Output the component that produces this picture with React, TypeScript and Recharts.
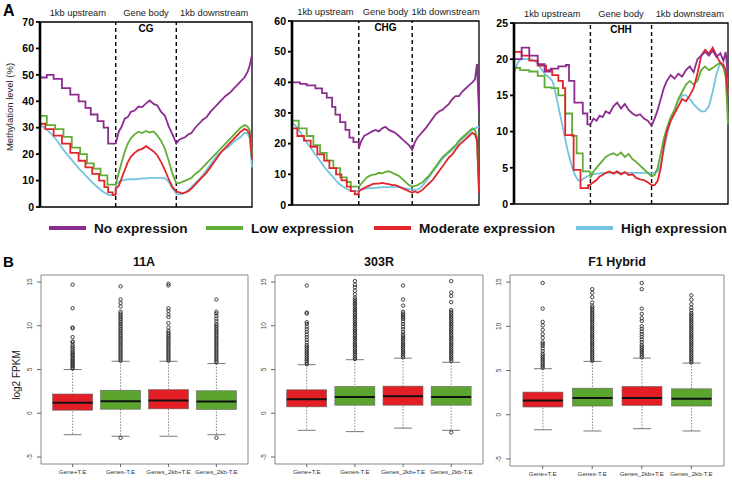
import React from 'react';
import {
  LineChart,
  Line,
  XAxis,
  YAxis,
  ReferenceLine,
  ReferenceArea,
  ComposedChart,
  Bar,
  Scatter,
} from 'recharts';

const FONT = '"Liberation Sans", Arial, Helvetica, sans-serif';

const PURPLE = '#8c2c8f';
const GREEN = '#62ad36';
const RED = '#e2252b';
const BLUE = '#74c4e0';

// ---------- panel A : methylation profiles ----------
// region bounds on the x scale: upstream 0-100, gene body 100-180, downstream 180-280
const regionStart = [0, 100, 180];
const regionEnd = [100, 180, 280];
const regionNames = ['1kb upstream', 'Gene body', '1kb downstream'];

// x grid for gene body + downstream part of every profile
const tailX = [100, 104, 108, 112, 116, 120, 125, 130, 135, 140, 145, 150, 155, 160, 165, 170, 175, 180,
  184, 188, 192, 196, 200, 205, 210, 215, 220, 225, 230, 235, 240, 245, 250, 255, 260, 265, 270, 274, 277, 280];

type Pair = [number, number];

// CG
const cgNoneUp: Pair[] = [[0, 49], [9, 50], [18, 48.5], [29, 45], [40, 42.5], [51, 40], [60, 37.5], [67, 35], [76, 32.5], [84, 30], [90, 24], [100, 24]];
const cgLowUp: Pair[] = [[0, 34.5], [9, 31], [20, 29.5], [31, 26.5], [42, 22.5], [53, 20], [62, 16.5], [71, 14.5], [80, 12], [89, 8.5], [100, 8.5]];
const cgModUp: Pair[] = [[0, 31.5], [7, 29.5], [18, 27], [29, 24], [40, 20.5], [51, 17.5], [60, 15], [69, 12.5], [78, 10], [85, 7.5], [90, 5.5], [96, 4.5], [100, 4.5]];
const cgHighUp: Pair[] = [[0, 31], [10, 29], [20, 26], [30, 22], [40, 18.5], [50, 15], [60, 12], [70, 9], [78, 7], [85, 5.5], [92, 4.5], [100, 4.5]];
const cgNoneTail = [24, 28.5, 30.5, 33.5, 34, 36, 36.5, 38, 37.8, 39.2, 40.3, 39, 38.4, 36, 34.5, 30.5, 27.5, 24,
  25.5, 26, 26.5, 27.5, 28, 30, 31.5, 33, 34, 36, 37.5, 39, 40.5, 42, 43, 44.5, 46, 47.5, 49, 51, 53.5, 57.5];
const cgLowTail = [8.5, 13, 17, 21, 24, 26, 27.5, 28.5, 28, 28.8, 28.2, 28.6, 27, 25, 22, 17.5, 12.5, 9,
  9, 9.5, 10, 10.5, 11, 12.5, 13.5, 15, 16.5, 18, 19.5, 21, 22.5, 24, 25.5, 27, 28.5, 30, 31, 30.5, 29, 20];
const cgModTail = [7, 8, 11, 14, 17, 19, 20.5, 21.5, 22, 23, 22, 21, 19.5, 17, 14, 10.5, 7.5, 6,
  5.5, 5.2, 5.5, 6, 7, 8.5, 10, 11.5, 13, 15, 17, 19, 21, 22.5, 24, 25.5, 27, 28.5, 29.5, 29, 27.5, 18];
const cgHighTail = [8.5, 9.5, 10, 10.3, 10.5, 10.5, 10.5, 10.6, 10.8, 10.8, 11, 11, 11, 11, 10.8, 9.5, 7, 5,
  4.8, 5, 5.5, 6.5, 7.5, 9, 10.5, 12, 14, 16, 18, 20, 21, 22, 23, 24.5, 25.5, 26.5, 28, 28, 26, 15];

// CHG
const chgNoneUp: Pair[] = [[0, 40], [12, 39.5], [22, 39], [35, 38], [45, 36.5], [52, 35], [60, 32], [65, 29.5], [72, 27], [80, 24.5], [86, 22], [92, 20.5], [100, 20.5]];
const chgLowUp: Pair[] = [[0, 27.5], [10, 25], [22, 22.5], [32, 19.5], [42, 17], [52, 14.5], [62, 12], [72, 9], [82, 7.5], [88, 6], [100, 6]];
const chgModUp: Pair[] = [[0, 25], [8, 22.5], [18, 21], [28, 19], [38, 16.5], [48, 14.5], [56, 12], [66, 10], [74, 8], [82, 6], [88, 4.5], [94, 3.5], [100, 3.5]];
const chgHighUp: Pair[] = [[0, 27], [10, 24.5], [20, 21], [30, 18], [40, 15], [50, 12], [60, 9.5], [70, 7], [80, 5.5], [90, 4.5], [100, 4.5]];
const chgNoneTail = [18.5, 21, 22.5, 23, 23.5, 24, 24.5, 24, 25, 25.5, 24.5, 24, 23.5, 22.5, 21.5, 20.5, 19.5, 18,
  20.5, 22, 23, 24, 25, 26.5, 28, 29.5, 30.5, 31, 32, 33, 34.5, 35.5, 35.5, 37, 38, 39, 40, 41, 46, 30];
const chgLowTail = [6, 7, 8, 9, 9.5, 9.8, 10, 10.5, 10.3, 10.8, 11, 10.5, 10, 9.5, 8.5, 7.5, 6.5, 6,
  6.2, 6.5, 7, 7.5, 8.5, 9.5, 11, 12.5, 14, 15.5, 16.5, 17.5, 18.5, 19.5, 21, 22, 23, 24, 25, 24.5, 22, 5];
const chgModTail = [4.5, 5, 5.5, 6, 6.3, 6.8, 7, 7, 7.2, 7, 6.8, 6.5, 6.5, 6, 5.5, 5, 4.5, 4,
  4.5, 4, 4.5, 5, 6, 7, 8, 9.5, 11, 12.5, 14, 15.5, 16.5, 18, 19.5, 20.5, 21.5, 22.5, 23.5, 23, 21, 4];
const chgHighTail = [5, 5.2, 5.3, 5.4, 5.5, 5.5, 5.6, 5.7, 5.8, 5.8, 5.8, 5.8, 5.8, 5.8, 5.6, 5.4, 5.2, 5,
  5, 5, 5.5, 6.5, 7.5, 9, 10.5, 12, 13.5, 15, 16, 17, 18, 19, 20.5, 21.5, 22.5, 23.5, 24.5, 25, 25.3, 25.5];

// CHH
const chhNoneUp: Pair[] = [[0, 20], [10, 21.6], [20, 20.5], [31, 19.3], [40, 18.3], [48, 18.7], [58, 19], [68, 19.2], [72, 17], [79, 14], [90, 12.5], [96, 11], [100, 11]];
const chhLowUp: Pair[] = [[0, 18.8], [8, 18.5], [20, 18.3], [31, 17.7], [40, 16.1], [49, 16], [58, 15], [67, 12.5], [76, 9.4], [82, 7], [90, 4.5], [100, 4.5]];
const chhModUp: Pair[] = [[0, 21], [10, 20.5], [20, 19.8], [31, 19.1], [42, 18.5], [50, 17.8], [58, 17], [64, 16], [67, 9.5], [78, 4.7], [87, 2.2], [97, 2.6], [100, 2.6]];
const chhHighUp: Pair[] = [[0, 18], [5, 19.5], [10, 20], [20, 20], [30, 19.5], [40, 18], [50, 17], [55, 15], [60, 12.5], [65, 10], [70, 7.5], [75, 5.5], [80, 4], [86, 3.2], [92, 3.6], [100, 4]];
const chhNoneTail = [11, 11.8, 11.5, 12.2, 12, 12.8, 12.5, 13.5, 14, 13.2, 13.8, 13, 12.5, 12.2, 12.4, 11.8, 11.5, 10.8,
  11.8, 13, 14.5, 16, 17, 17.8, 17.3, 18, 17.6, 18.5, 19, 18.2, 20, 20.5, 21, 20.5, 21.2, 20.3, 20.8, 19.8, 21, 17.5];
const chhLowTail = [3.6, 4.5, 5, 5.5, 6, 6.5, 6.8, 7, 6.7, 7.1, 6.5, 6.9, 6.2, 5.8, 5.3, 4.8, 4.3, 3.8,
  4, 5, 7, 9, 10.5, 12, 13, 14.5, 15.5, 16.5, 17, 16.5, 17, 18.5, 19, 18.5, 18.8, 19.2, 19.5, 18.8, 17.5, 11];
const chhModTail = [2.7, 3, 3.3, 3.8, 4, 4.3, 4.5, 4.2, 4.5, 4.1, 4.4, 4, 4.1, 3.6, 3.4, 3.3, 3, 2.6,
  2.6, 3.2, 5, 8, 10, 11.5, 12.5, 13.5, 14.5, 14.2, 15, 16, 18, 20.5, 21.3, 20.8, 21.6, 20.5, 19.5, 19.2, 18.5, 15];
const chhHighTail = [4, 4.1, 4.2, 4.2, 4.3, 4.3, 4.3, 4.3, 4.3, 4.3, 4.3, 4.3, 4.3, 4.3, 4.3, 4.3, 4.3, 4.2,
  4.3, 4.5, 5.5, 7.5, 9.5, 11.5, 13, 14.3, 15, 15, 14.5, 13.8, 13.2, 12.8, 12.8, 13.5, 15.5, 18, 19.5, 19.3, 18.5, 15];

const legendNames = ['No expression', 'Low expression', 'Moderate expression', 'High expression'];
const legendColors = [PURPLE, GREEN, RED, BLUE];
const legendX = [49, 206, 374, 576];

interface Series { color: string; up: Pair[]; tail: number[]; smooth?: boolean }

const cgSeries: Series[] = [
  { color: BLUE, up: cgHighUp, tail: cgHighTail, smooth: true },
  { color: GREEN, up: cgLowUp, tail: cgLowTail },
  { color: RED, up: cgModUp, tail: cgModTail },
  { color: PURPLE, up: cgNoneUp, tail: cgNoneTail },
];
const chgSeries: Series[] = [
  { color: BLUE, up: chgHighUp, tail: chgHighTail, smooth: true },
  { color: GREEN, up: chgLowUp, tail: chgLowTail },
  { color: RED, up: chgModUp, tail: chgModTail },
  { color: PURPLE, up: chgNoneUp, tail: chgNoneTail },
];
const chhSeries: Series[] = [
  { color: BLUE, up: chhHighUp, tail: chhHighTail, smooth: true },
  { color: GREEN, up: chhLowUp, tail: chhLowTail },
  { color: RED, up: chhModUp, tail: chhModTail },
  { color: PURPLE, up: chhNoneUp, tail: chhNoneTail },
];

// ---------- panel B : expression box plots ----------
const categories = ['Gene+T.E', 'Genes-T.E', 'Genes_2kb+T.E', 'Genes_2kb-T.E'];
const boxFill = ['#e31e25', '#5ba52f', '#e31e25', '#5ba52f'];

const a11Lo = [-2.45, -2.63, -2.63, -2.45];
const a11Q1 = [0.35, 0.46, 0.5, 0.43];
const a11Med = [1.2, 1.37, 1.47, 1.35];
const a11Q3 = [2.2, 2.63, 2.7, 2.57];
const a11Hi = [5.0, 5.94, 5.94, 5.68];
const a11Out = [
  [5.1, 5.25, 5.4, 5.55, 5.7, 5.85, 6.0, 6.15, 6.3, 6.5, 6.65, 6.8, 7.0, 7.2, 7.4, 7.6, 7.8, 8.1, 8.2, 8.7, 9.7, 9.8, 12.0, 14.7],
  [-2.8, 6.0, 6.2, 6.4, 6.6, 6.8, 7.0, 7.2, 7.4, 7.6, 7.8, 8.0, 8.2, 8.4, 8.6, 8.8, 9.0, 9.2, 9.4, 9.6, 9.8, 10.0, 10.2, 10.4, 10.6, 10.8, 11.0, 11.2, 11.4, 11.6, 12.2, 12.6, 13.0, 14.5],
  [6.0, 6.2, 6.4, 6.6, 6.8, 7.0, 7.2, 7.4, 7.6, 7.8, 8.0, 8.2, 8.4, 8.6, 8.8, 9.0, 9.2, 9.4, 9.8, 10.3, 11.0, 11.3, 11.7, 12.0, 14.6, 14.8],
  [-2.8, 5.8, 6.0, 6.2, 6.4, 6.6, 6.8, 7.0, 7.2, 7.4, 7.6, 7.8, 8.0, 8.2, 8.4, 8.6, 8.8, 9.0, 9.2, 9.4, 9.6, 9.8, 10.0, 10.2, 10.5, 10.8, 11.1, 11.4, 11.6, 13.0],
];

const r303Lo = [-1.95, -2.1, -1.7, -1.95];
const r303Q1 = [0.73, 0.92, 0.92, 0.92];
const r303Med = [1.6, 1.87, 1.95, 1.85];
const r303Q3 = [2.68, 3.06, 3.1, 3.06];
const r303Hi = [5.55, 6.12, 6.3, 5.82];
const r303Out = [
  [5.6, 5.8, 6.0, 6.2, 6.4, 6.6, 6.8, 7.0, 7.2, 7.4, 7.6, 7.8, 8.1, 8.4, 8.7, 9.0, 9.3, 9.6, 9.9, 10.2, 10.4, 11.4, 11.5, 14.6],
  [6.2, 6.4, 6.6, 6.8, 7.0, 7.2, 7.4, 7.6, 7.8, 8.0, 8.2, 8.4, 8.6, 8.8, 9.0, 9.2, 9.4, 9.6, 9.8, 10.0, 10.2, 10.4, 10.6, 10.8, 11.0, 11.2, 11.4, 11.6, 11.8, 12.0, 12.2, 12.4, 12.6, 12.8, 13.0, 13.2, 13.6, 14.0, 14.4, 14.7, 15.1],
  [6.4, 6.6, 6.8, 7.0, 7.2, 7.4, 7.6, 7.8, 8.0, 8.2, 8.4, 8.6, 8.8, 9.0, 9.3, 9.6, 9.9, 10.2, 10.5, 10.8, 11.0, 11.2, 11.4, 11.6, 12.3, 13.0, 14.6],
  [-2.2, 6.0, 6.2, 6.4, 6.6, 6.8, 7.0, 7.2, 7.4, 7.6, 7.8, 8.0, 8.2, 8.4, 8.6, 8.8, 9.0, 9.2, 9.4, 9.6, 9.8, 10.0, 10.2, 10.4, 10.6, 10.8, 11.0, 11.2, 11.4, 11.6, 11.8, 12.7, 13.4, 13.8, 15.1],
];

const f1Lo = [-1.7, -1.84, -1.58, -1.84];
const f1Q1 = [0.87, 0.98, 1.05, 0.98];
const f1Med = [1.6, 1.88, 1.88, 1.8];
const f1Q3 = [2.56, 3.0, 3.2, 2.93];
const f1Hi = [5.2, 6.03, 6.4, 5.84];
const f1Out = [
  [5.3, 5.5, 5.7, 5.9, 6.1, 6.3, 6.5, 6.7, 6.9, 7.2, 7.5, 7.8, 8.0, 8.2, 8.7, 9.1, 9.6, 10.1, 10.5, 12.0, 14.9],
  [6.1, 6.3, 6.5, 6.7, 6.9, 7.1, 7.3, 7.5, 7.7, 7.9, 8.1, 8.3, 8.5, 8.7, 8.9, 9.1, 9.3, 9.5, 9.7, 9.9, 10.1, 10.3, 10.5, 10.7, 10.9, 11.1, 11.3, 11.5, 11.7, 11.9, 12.1, 12.3, 12.7, 13.3, 13.8, 14.2],
  [6.5, 6.7, 6.9, 7.1, 7.3, 7.5, 7.7, 7.9, 8.2, 8.5, 8.8, 9.1, 9.4, 9.7, 10.0, 10.6, 10.9, 11.4, 12.0, 14.2, 14.9],
  [5.9, 6.1, 6.3, 6.5, 6.7, 6.9, 7.1, 7.3, 7.5, 7.7, 7.9, 8.1, 8.3, 8.5, 8.7, 8.9, 9.1, 9.3, 9.5, 9.7, 9.9, 10.1, 10.3, 10.5, 10.7, 10.9, 11.1, 11.3, 11.5, 11.8, 12.1, 12.5, 13.0, 13.5],
];

const toPts = (pairs: Pair[]) => pairs.map(([x, y]) => ({ x, y }));

function MethPanel(props: {
  left: number; width: number; yWidth: number; right: number; plotTop: number; plotBottom: number;
  yMax: number; yTicks: number[]; context: string; series: Series[];
}) {
  const { left, width, yWidth, right, plotTop, plotBottom, yMax, yTicks, context, series } = props;
  const height = 212;
  return (
    <div style={{ position: 'absolute', left, top: 0 }}>
      <LineChart width={width} height={height} margin={{ top: plotTop, right, bottom: height - plotBottom, left: 0 }}>
        <XAxis
          type="number" dataKey="x" domain={[0, 280]} height={0} tick={false} tickLine={false}
          axisLine={{ stroke: '#000', strokeWidth: 2.6 }}
        />
        <YAxis
          type="number" domain={[0, yMax]} ticks={yTicks} interval={0} width={yWidth}
          axisLine={{ stroke: '#000', strokeWidth: 2.6 }} tickLine={{ stroke: '#000', strokeWidth: 1.8 }}
          tickSize={4} tickMargin={2} tick={{ fontSize: 10.5, fontWeight: 700, fill: '#000' }}
        />
        <ReferenceArea x1={0} x2={280} y1={0} y2={yMax} fill="none" stroke="#000" strokeWidth={1.3} />
        {regionNames.map((name, i) => (
          <ReferenceArea
            key={name} x1={regionStart[i]} x2={regionEnd[i]} y1={0} y2={yMax} fill="none" stroke="none"
            label={{ value: name, position: 'top', offset: 6.5, fontSize: 9.3, fill: '#1a1a1a' }}
          />
        ))}
        <ReferenceArea
          x1={100} x2={180} y1={0} y2={yMax} fill="none" stroke="none"
          label={{ value: context, position: 'insideTop', offset: 3, fontSize: 10, fontWeight: 700, fill: '#000' }}
        />
        <ReferenceLine x={100} stroke="#000" strokeWidth={1.4} strokeDasharray="4 3" />
        <ReferenceLine x={180} stroke="#000" strokeWidth={1.4} strokeDasharray="4 3" />
        {series.map((s, i) => {
          const last = s.up[s.up.length - 1];
          const tail = [{ x: last[0], y: last[1] }, ...s.tail.map((y, j) => ({ x: tailX[j], y }))];
          return [
            <Line
              key={`u${i}`} data={toPts(s.up)} dataKey="y" type={s.smooth ? 'monotone' : 'stepAfter'}
              stroke={s.color} strokeWidth={1.8} dot={false} isAnimationActive={false}
            />,
            <Line
              key={`t${i}`} data={tail} dataKey="y" type="linear"
              stroke={s.color} strokeWidth={1.8} dot={false} isAnimationActive={false}
            />,
          ];
        })}
      </LineChart>
    </div>
  );
}

function BoxShape(p: any) {
  const { x, y, width, height, payload } = p;
  const { lo, hi, q1, q3, med, fill } = payload;
  const pix = (v: number) => y + (height * (hi - v)) / (hi - lo);
  const cx = x + width / 2;
  const cap = 9;
  return (
    <g>
      <line x1={cx} x2={cx} y1={y} y2={y + height} stroke="#555" strokeWidth={0.7} strokeDasharray="1.5 1.5" />
      <line x1={cx - cap} x2={cx + cap} y1={y} y2={y} stroke="#555" strokeWidth={0.8} />
      <line x1={cx - cap} x2={cx + cap} y1={y + height} y2={y + height} stroke="#555" strokeWidth={0.8} />
      <rect x={x} y={pix(q3)} width={width} height={pix(q1) - pix(q3)} fill={fill} stroke="#666" strokeWidth={0.6} />
      <line x1={x} x2={x + width} y1={pix(med)} y2={pix(med)} stroke="#111" strokeWidth={2} />
    </g>
  );
}

function OutlierDot(p: any) {
  return <circle cx={p.cx} cy={p.cy} r={1.7} fill="none" stroke="#222" strokeWidth={0.85} />;
}

function RotTick(p: any) {
  return (
    <text x={0} y={0} transform={`translate(${p.x},${p.y}) rotate(-90)`} textAnchor="middle" fontSize={6.5} fill="#444">
      {p.payload.value}
    </text>
  );
}

function BoxPanel(props: {
  left: number; width: number; yWidth: number; right: number; bottom: number;
  lo: number[]; q1: number[]; med: number[]; q3: number[]; hi: number[]; outliers: number[][];
}) {
  const { left, width, yWidth, right, bottom, lo, q1, med, q3, hi, outliers } = props;
  const rows = categories.map((c, i) => ({
    x: i + 1, name: c, range: [lo[i], hi[i]], lo: lo[i], q1: q1[i], med: med[i], q3: q3[i], hi: hi[i], fill: boxFill[i],
  }));
  const pts = outliers.flatMap((vals, i) => vals.map((y) => ({ x: i + 1, y })));
  return (
    <div style={{ position: 'absolute', left, top: 270 }}>
      <ComposedChart width={width} height={215} data={rows} margin={{ top: 5, right, bottom, left: 0 }}>
        <XAxis
          type="number" dataKey="x" domain={[0.34, 4.66]} ticks={[1, 2, 3, 4]} interval={0}
          tickFormatter={(v: number) => categories[v - 1]} axisLine={false}
          tickLine={{ stroke: '#666' }} tickSize={3} tickMargin={3} height={16}
          tick={{ fontSize: 6.2, fill: '#333' }}
        />
        <YAxis
          type="number" domain={[-5.8, 15.8]} ticks={[-5, 0, 5, 10, 15]} interval={0} width={yWidth}
          axisLine={false} tickLine={{ stroke: '#666' }} tickSize={4} tickMargin={5}
          tick={(t: any) => <RotTick {...t} />} allowDataOverflow
        />
        <ReferenceArea x1={0.34} x2={4.66} y1={-5.8} y2={15.8} fill="none" stroke="#8a8a8a" strokeWidth={1} />
        <Bar dataKey="range" barSize={40} shape={(b: any) => <BoxShape {...b} />} isAnimationActive={false} />
        <Scatter data={pts} dataKey="y" shape={(d: any) => <OutlierDot {...d} />} isAnimationActive={false} />
      </ComposedChart>
    </div>
  );
}

export default function App() {
  return (
    <div
      style={{
        position: 'absolute', left: 0, top: 0, width: 732, height: 485,
        background: '#fff', overflow: 'hidden', fontFamily: FONT,
      }}
    >
      <MethPanel left={0} width={255} yWidth={40} right={3} plotTop={22} plotBottom={207}
        yMax={70} yTicks={[0, 10, 20, 30, 40, 50, 60, 70]} context="CG" series={cgSeries} />
      <MethPanel left={250} width={232} yWidth={42} right={3} plotTop={21} plotBottom={205}
        yMax={60} yTicks={[0, 10, 20, 30, 40, 50, 60]} context="CHG" series={chgSeries} />
      <MethPanel left={482} width={250} yWidth={32} right={4} plotTop={23} plotBottom={204}
        yMax={25} yTicks={[0, 5, 10, 15, 20, 25]} context="CHH" series={chhSeries} />

      <BoxPanel left={0} width={255} yWidth={41} right={7} bottom={5}
        lo={a11Lo} q1={a11Q1} med={a11Med} q3={a11Q3} hi={a11Hi} outliers={a11Out} />
      <BoxPanel left={255} width={232} yWidth={20} right={4} bottom={5}
        lo={r303Lo} q1={r303Q1} med={r303Med} q3={r303Q3} hi={r303Hi} outliers={r303Out} />
      <BoxPanel left={487} width={245} yWidth={23} right={8} bottom={3}
        lo={f1Lo} q1={f1Q1} med={f1Med} q3={f1Q3} hi={f1Hi} outliers={f1Out} />

      <svg width={732} height={485} style={{ position: 'absolute', left: 0, top: 0, pointerEvents: 'none' }}>
        <text x={3} y={15.5} fontSize={16} fontWeight={700} fill="#000">A</text>
        <text transform="translate(12.5,107) rotate(-90)" textAnchor="middle" fontSize={9.5} fill="#222">
          Methylation level (%)
        </text>
        {legendNames.map((n, i) => (
          <g key={n}>
            <line x1={legendX[i]} x2={legendX[i] + 37} y1={228} y2={228} stroke={legendColors[i]} strokeWidth={4} />
            <text x={legendX[i] + 45} y={233} fontSize={13.6} fontWeight={700} fill="#111">{n}</text>
          </g>
        ))}
        <text x={3} y={266.5} fontSize={15} fontWeight={700} fill="#000">B</text>
        <text x={144} y={265.5} textAnchor="middle" fontSize={12.5} fontWeight={700} fill="#111">11A</text>
        <text x={379} y={265.5} textAnchor="middle" fontSize={12.5} fontWeight={700} fill="#111">303R</text>
        <text x={617} y={265.5} textAnchor="middle" fontSize={12.5} fontWeight={700} fill="#111">F1 Hybrid</text>
        <text transform="translate(19.5,375) rotate(-90)" textAnchor="middle" fontSize={10} fill="#222">
          log2 FPKM
        </text>
      </svg>
    </div>
  );
}
